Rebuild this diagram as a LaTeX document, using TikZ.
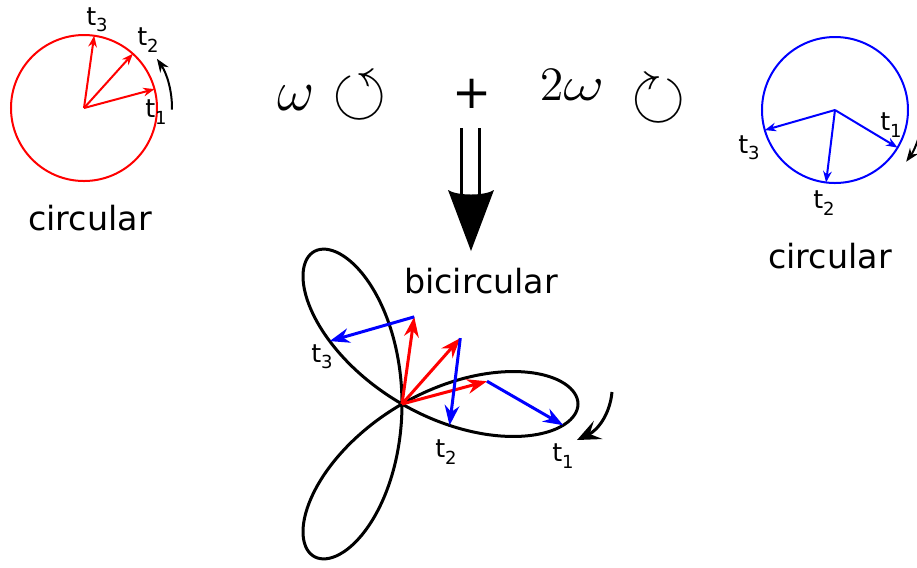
\documentclass[tikz,border=0pt]{standalone}
\usepackage[no-math]{fontspec}
\setmainfont{DejaVu Sans}
\usepackage{amssymb}
\usepackage{graphicx}
\usetikzlibrary{arrows.meta}

\newcommand{\tlab}[1]{t\raisebox{-0.45ex}{\fontsize{5.4}{6}\selectfont #1}}
\tikzset{
  lbl/.style = {font=\fontsize{7.6}{9}\selectfont, inner sep=0pt},
  capt/.style = {font=\fontsize{10}{12}\selectfont, inner sep=0pt},
  bigmath/.style = {font=\fontsize{19}{22}\selectfont, inner sep=0pt},
  rot/.style = {font=\fontsize{21}{24}\selectfont, inner sep=0pt},
  vec/.style = {line width=0.6pt, -{Stealth[length=3.4pt,width=2.6pt]}},
  bivec/.style = {line width=0.9pt, -{Stealth[length=6pt,width=4.4pt]}},
  turn/.style = {line width=0.6pt, -{Stealth[length=4pt,width=3pt]}},
}

\begin{document}
\begin{tikzpicture}[x=0.3pt, y=-0.3pt]
	\useasboundingbox (0,0) rectangle (917,567);
	% left circle, omega, red
	\coordinate (rc) at (84,108);
	\draw[red, line width=0.6pt] (rc) circle (73);
	\foreach \a/\n in {15/1, 48/2, 82/3}
		\draw[vec, red] (rc) -- ++(-\a:73) coordinate (r\n);
	\node[lbl] (rt1) at (156,112) {\tlab{1}};
	\node[lbl] (rt2) at (148,40) {\tlab{2}};
	\node[lbl] (rt3) at (97,20) {\tlab{3}};
	\draw[turn] (rc) ++(1:88) coordinate (ra) arc[start angle=1, end angle=-34, radius=88] coordinate (rb);
	\node[capt] (rcap) at (90,218) {circular};
	% right circle, 2 omega, blue
	\coordinate (bc) at (835,110);
	\draw[blue, line width=0.6pt] (bc) circle (73);
	\foreach \a/\n in {31/1, 97/2, 164/3}
		\draw[vec, blue] (bc) -- ++(\a:73) coordinate (b\n);
	\node[lbl] (bt1) at (891,125) {\tlab{1}};
	\node[lbl] (bt2) at (824,203) {\tlab{2}};
	\node[lbl] (bt3) at (749,148) {\tlab{3}};
	\draw[turn] (bc) ++(10:88) coordinate (ba) arc[start angle=10, end angle=36, radius=88] coordinate (bb);
	\node[capt] (bcap) at (830,256) {circular};
	% the sum
	\node[bigmath] (om1) at (296,98.5) {$\omega$};
	\node[rot] (ar1) at (360,96.5) {$\circlearrowleft$};
	\node[inner sep=0pt, font=\fontsize{14}{16}\selectfont] (plus) at (472,94) {+};
	\node[inner sep=0pt, font=\fontsize{14}{16}\selectfont] (om2) at (572,85.5) {$2$\scalebox{1.32}[1]{$\omega$}};
	\node[rot] (ar2) at (659,100) {$\circlearrowright$};
	% big arrow down
	\coordinate (stem) at (471,128);
	\coordinate (tip) at (471,251);
	\draw[line width=0.9pt] (stem) ++(-9,0) -- ++(0,70) (stem) ++(9,0) -- ++(0,70);
	\fill (tip) -- ++(-23,-61) .. controls +(9,6) and +(-9,6) .. ++(46,0) -- cycle;
	\node[capt] (bic) at (481,281) {bicircular};
	% bicircular orbit
	\coordinate (o) at (402,404);
	\draw[line width=0.9pt, variable=\t, domain=0:358.2, samples=200, smooth cycle]
		plot ({402+88*(cos(\t)+cos(2*\t))}, {404+88*(sin(2*\t)-sin(\t))});
	\foreach \a/\n in {15/1, 48.5/2, 82/3}
		\draw[bivec, red] (o) -- ++(-\a:88) coordinate (p\n);
	\foreach \a/\n in {15/1, 48.5/2, 82/3}
		\draw[bivec, blue] (p\n) -- ++({2*\a}:88) coordinate (q\n);
	\node[lbl] (ot1) at (563,456) {\tlab{1}};
	\node[lbl] (ot2) at (446,452) {\tlab{2}};
	\node[lbl] (ot3) at (322,357) {\tlab{3}};
	\coordinate (sa) at (612,392);
	\coordinate (sb) at (577,440);
	\draw[line width=0.9pt, -{Stealth[length=7pt,width=6pt,inset=2.8pt]}] (sa) .. controls (610,414) and (598,430) .. (sb);
\end{tikzpicture}
\end{document}
